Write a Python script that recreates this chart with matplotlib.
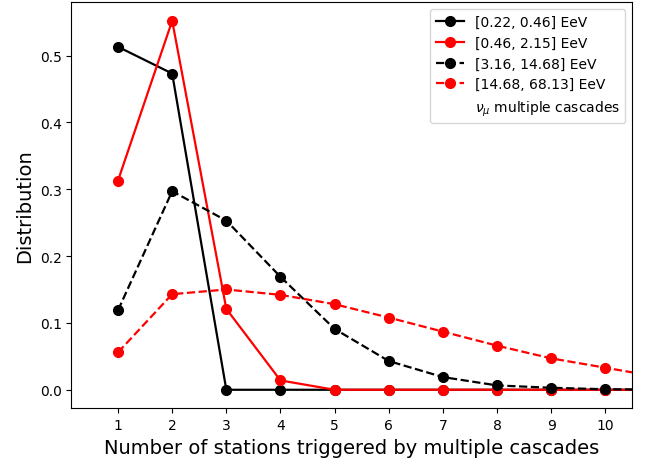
import numpy as np
import matplotlib
matplotlib.use("Agg")
import matplotlib.pyplot as plt

# number of triggered stations
n_stations = np.arange(1, 12)

labels = ["[0.22, 0.46] EeV", "[0.46, 2.15] EeV",
          "[3.16, 14.68] EeV", "[14.68, 68.13] EeV"]

dist_1 = [0.513, 0.473, 0.0, 0.0, 0.0, 0.0, 0.0, 0.0, 0.0, 0.0, 0.0]
dist_2 = [0.313, 0.552, 0.121, 0.014, 0.0, 0.0, 0.0, 0.0, 0.0, 0.0, 0.0]
dist_3 = [0.119, 0.297, 0.253, 0.169, 0.091, 0.043, 0.019, 0.0065, 0.003, 0.0008, 0.0002]
dist_4 = [0.056, 0.143, 0.150, 0.142, 0.128, 0.108, 0.087, 0.066, 0.047, 0.033, 0.019]

fig = plt.figure(figsize=(6.57, 4.64), dpi=100)
ax = fig.add_axes([0.1088, 0.1179, 0.8537, 0.8756])

ax.plot(n_stations, dist_1, 'o-', color='k', ms=7, lw=1.6, label=labels[0])
ax.plot(n_stations, dist_2, 'o-', color='r', ms=7, lw=1.6, label=labels[1])
ax.plot(n_stations, dist_3, 'o--', color='k', ms=7, lw=1.6, label=labels[2])
ax.plot(n_stations, dist_4, 'o--', color='r', ms=7, lw=1.6, label=labels[3])
ax.plot([], [], ' ', label=r'$\nu_\mu$ multiple cascades')

ax.set_xlim(0.14, 10.5)
ax.set_ylim(-0.0277, 0.58)
ax.set_xticks(range(1, 11))
ax.set_xlabel("Number of stations triggered by multiple cascades", fontsize=14)
ax.set_ylabel("Distribution", fontsize=14)
ax.legend(loc='upper right', fontsize=10)

fig.savefig("out.png", dpi=100)
